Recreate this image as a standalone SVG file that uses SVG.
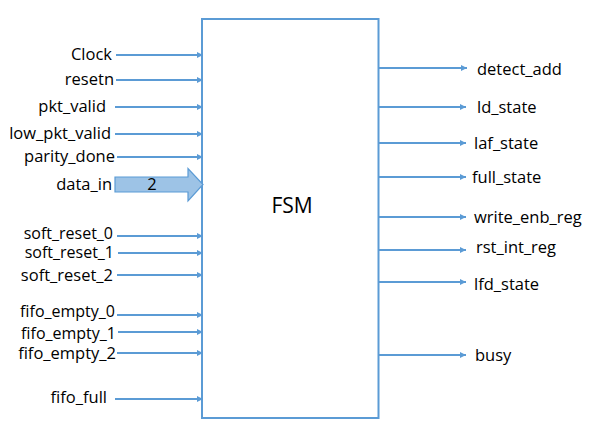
<svg xmlns="http://www.w3.org/2000/svg" width="592" height="432" viewBox="0 0 592 432">
<defs>
<marker id="ah" markerUnits="userSpaceOnUse" markerWidth="8" markerHeight="8" refX="6" refY="3" orient="auto">
<path d="M0,0 L6,3 L0,6 Z" fill="#5B9BD5"/>
</marker>
<style>
.c{stroke:#5B9BD5;stroke-width:2;fill:none;marker-end:url(#ah)}
.t{font-family:"Open Sans","Liberation Sans",sans-serif;font-size:16.5px;fill:#000}
.s{font-size:16px}
.l{text-anchor:end}
</style>
</defs>
<rect width="592" height="432" fill="#fff"/>
<g id="fsm">
<rect x="202" y="19" width="176.5" height="399" fill="#fff" stroke="#5B9BD5" stroke-width="2"/>
<text x="292" y="213" font-family="'Open Sans','Liberation Sans',sans-serif" font-size="21" text-anchor="middle">FSM</text>
</g>
<g id="connectors">
<line class="c" x1="116" y1="55" x2="203" y2="55"/>
<line class="c" x1="116" y1="80" x2="203" y2="80"/>
<line class="c" x1="115" y1="107" x2="203" y2="107"/>
<line class="c" x1="115" y1="134" x2="203" y2="134"/>
<line class="c" x1="117" y1="157" x2="203" y2="157"/>
<line class="c" x1="117" y1="236" x2="203" y2="236"/>
<line class="c" x1="118" y1="253" x2="203" y2="253"/>
<line class="c" x1="117" y1="275" x2="203" y2="275"/>
<line class="c" x1="117" y1="315" x2="203" y2="315"/>
<line class="c" x1="118" y1="332" x2="203" y2="332"/>
<line class="c" x1="117" y1="353" x2="203" y2="353"/>
<line class="c" x1="115" y1="399" x2="203" y2="399"/>
<line class="c" x1="378" y1="68" x2="467" y2="68"/>
<line class="c" x1="378" y1="107" x2="466" y2="107"/>
<line class="c" x1="378" y1="143" x2="466" y2="143"/>
<line class="c" x1="378" y1="177" x2="466" y2="177"/>
<line class="c" x1="378" y1="217" x2="466" y2="217"/>
<line class="c" x1="378" y1="250" x2="466" y2="250"/>
<line class="c" x1="378" y1="282" x2="466" y2="282"/>
<line class="c" x1="378" y1="355" x2="466" y2="355"/>
<g id="data_in_bus">
<path d="M115,177 L188,177 L188,168.5 L203,184.5 L188,201 L188,192 L115,192 Z" fill="#9DC3E6" stroke="#5B9BD5" stroke-width="1.2"/>
<text class="t" x="152" y="190" text-anchor="middle">2</text>
</g>
</g>
<g id="inputs">
<text class="t l" x="112" y="60">Clock</text>
<text class="t l" x="114" y="85">resetn</text>
<text class="t l" x="106" y="112">pkt_valid</text>
<text class="t l" x="111" y="139">low_pkt_valid</text>
<text class="t l" x="115" y="162">parity_done</text>
<text class="t l" x="112" y="190">data_in</text>
<text class="t s l" x="113" y="239">soft_reset_0</text>
<text class="t s l" x="114" y="258">soft_reset_1</text>
<text class="t l" x="113" y="281">soft_reset_2</text>
<text class="t s l" x="115" y="317">fifo_empty_0</text>
<text class="t s l" x="116" y="339">fifo_empty_1</text>
<text class="t l" x="116" y="359">fifo_empty_2</text>
<text class="t l" x="107" y="403">fifo_full</text>
</g>
<g id="outputs">
<text class="t" x="477" y="75">detect_add</text>
<text class="t" x="477" y="113">ld_state</text>
<text class="t" x="474" y="149">laf_state</text>
<text class="t" x="472" y="183">full_state</text>
<text class="t" x="474" y="223">write_enb_reg</text>
<text class="t" x="476" y="253">rst_int_reg</text>
<text class="t" x="474" y="290">lfd_state</text>
<text class="t" x="475" y="361">busy</text>
</g>
</svg>
